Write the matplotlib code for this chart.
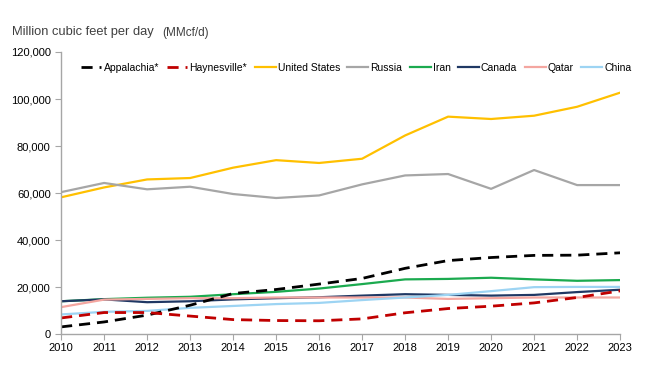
import numpy as np
import matplotlib
matplotlib.use("Agg")
import matplotlib.pyplot as plt
import matplotlib.ticker as mtick

plt.rcParams['font.family'] = ['Liberation Sans', 'DejaVu Sans']

years = list(range(2010, 2024))

appalachia = [3100, 5200, 8100, 12300, 17300, 19000, 21300, 23700, 28000, 31300, 32600, 33500, 33600, 34600]
haynesville = [6900, 9200, 9200, 7700, 6200, 5800, 5700, 6500, 9100, 10900, 11900, 13300, 15600, 18400]
united_states = [58200, 62400, 65800, 66400, 70800, 74000, 72800, 74600, 84500, 92500, 91500, 92900, 96700, 102700]
russia = [60400, 64300, 61600, 62700, 59600, 57900, 59000, 63700, 67500, 68100, 61800, 69800, 63400, 63400]
iran = [14000, 14900, 15500, 15900, 17000, 18000, 19400, 21300, 23300, 23500, 24000, 23300, 22700, 23000]
canada = [14000, 14800, 13600, 14000, 14800, 15300, 15700, 16400, 17000, 16700, 16400, 16700, 17900, 18900]
qatar = [11500, 14700, 15000, 15300, 15300, 15600, 15600, 15600, 15600, 15000, 15300, 15600, 15600, 15600]
china = [8400, 9500, 9900, 11200, 12000, 12800, 13300, 14500, 15600, 16700, 18300, 20000, 20100, 20100]

series = [
    ("Appalachia*", appalachia, "#000000", "--", 2.0),
    ("Haynesville*", haynesville, "#C00000", "--", 2.0),
    ("United States", united_states, "#FFC000", "-", 1.6),
    ("Russia", russia, "#A6A6A6", "-", 1.6),
    ("Iran", iran, "#1BAA4F", "-", 1.6),
    ("Canada", canada, "#1F3864", "-", 1.6),
    ("Qatar", qatar, "#F4A6A0", "-", 1.6),
    ("China", china, "#9DD4F3", "-", 1.6),
]

fig = plt.figure(figsize=(6.5, 3.85), dpi=100)
ax = fig.add_axes([0.094, 0.132, 0.860, 0.733])

# draw background lines first so the dashed ones sit on top
for label, vals, color, ls, lw in series[2:]:
    ax.plot(years, vals, color=color, linestyle=ls, linewidth=lw, label=label)
for label, vals, color, ls, lw in series[:2]:
    ax.plot(years, vals, color=color, linestyle=ls, linewidth=lw, label=label,
            dashes=(4, 2.5))

ax.set_xlim(2010, 2023)
ax.set_ylim(0, 120000)
ax.set_xticks(years)
ax.set_yticks(np.arange(0, 120001, 20000))
ax.yaxis.set_major_formatter(mtick.StrMethodFormatter("{x:,.0f}"))
ax.tick_params(axis='both', labelsize=8, color='#A6A6A6', length=4, width=0.8)
ax.tick_params(axis='x', pad=2)
for side in ['top', 'right']:
    ax.spines[side].set_visible(False)
for side in ['left', 'bottom']:
    ax.spines[side].set_color('#A6A6A6')
    ax.spines[side].set_linewidth(1.0)

handles, labels = ax.get_legend_handles_labels()
order = ["Appalachia*", "Haynesville*", "United States", "Russia", "Iran", "Canada", "Qatar", "China"]
hmap = dict(zip(labels, handles))
ax.legend([hmap[l] for l in order], order, loc='upper left', bbox_to_anchor=(0.02, 0.99),
          ncol=8, frameon=False, fontsize=7.5, handlelength=2.0, handletextpad=0.2,
          columnspacing=0.72, borderpad=0.3)

fig.text(0.019, 0.917, "Million cubic feet per day", fontsize=9.3, color='#404040', va='center')
fig.text(0.25, 0.915, "(MMcf/d)", fontsize=8.5, color='#404040', va='center')

fig.savefig("out.png", dpi=100)
